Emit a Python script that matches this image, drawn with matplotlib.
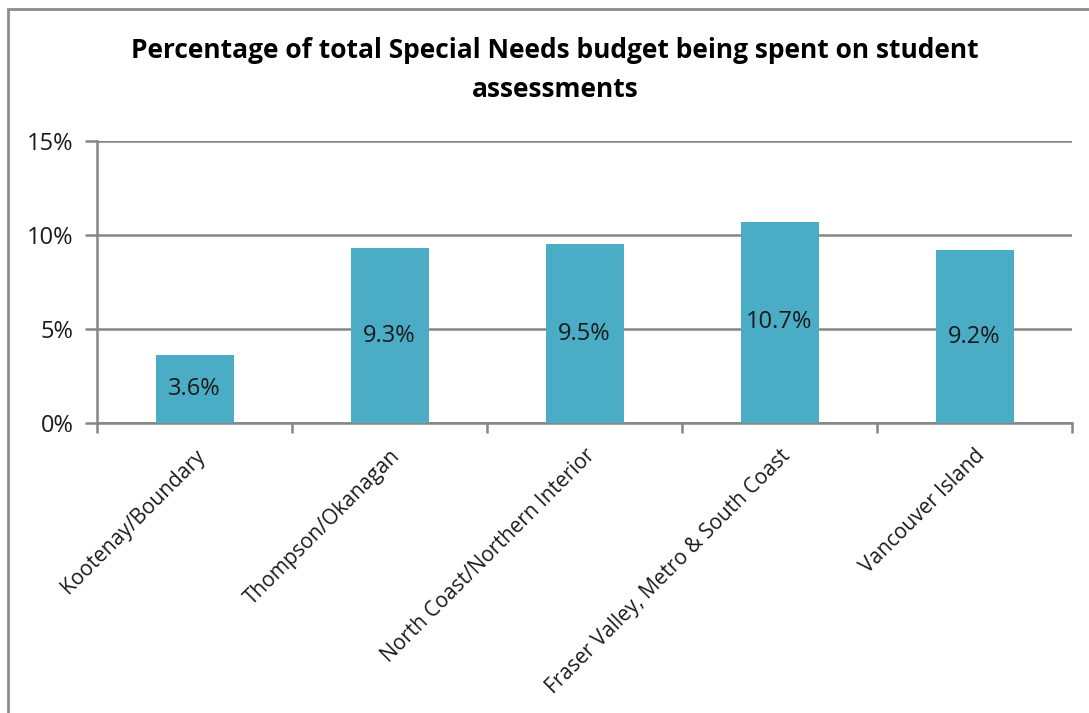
import matplotlib.pyplot as plt
from matplotlib.patches import Rectangle
from matplotlib.ticker import FuncFormatter, MultipleLocator

regions = ["Kootenay/Boundary", "Thompson/Okanagan", "North Coast/Northern Interior",
           "Fraser Valley, Metro & South Coast", "Vancouver Island"]
spent_pct = [3.6, 9.3, 9.5, 10.7, 9.2]

plt.rcParams['font.family'] = ['Open Sans', 'DejaVu Sans']

fig = plt.figure(figsize=(10.89, 7.13), dpi=100)
ax = fig.add_axes([97 / 1089, 1 - 423 / 713, 975 / 1089, 282 / 713])

# outer chart frame (left and top edges visible)
fig.patches.append(Rectangle((8 / 1089, -0.1), 1.2, 0.1 + (713 - 9) / 713,
                             transform=fig.transFigure, fill=False,
                             edgecolor='#8c8c8c', linewidth=2))

x = range(len(regions))
bars = ax.bar(x, spent_pct, width=0.4, color='#4bacc6', zorder=3)
for b, v in zip(bars, spent_pct):
    ax.text(b.get_x() + b.get_width() / 2, v / 2, f"{v:.1f}%", ha='center', va='center',
            fontsize=17, color='#1a1a1a', zorder=4)

ax.set_xlim(-0.5, len(regions) - 0.5)
ax.set_ylim(0, 15)
ax.yaxis.set_major_locator(MultipleLocator(5))
ax.yaxis.set_major_formatter(FuncFormatter(lambda v, p: f"{v:.0f}%"))
ax.grid(axis='y', color='#868686', linewidth=1.8, zorder=0)

ax.set_xticks([i - 0.5 for i in range(len(regions) + 1)], minor=False)
ax.set_xticklabels([])
ax.set_xticks(list(x), minor=True)
ax.set_xticklabels(regions, minor=True, rotation=45, ha='right', va='top',
                   rotation_mode='anchor', fontsize=15, color='#1a1a1a')
ax.tick_params(axis='x', which='minor', length=0, pad=16)
ax.tick_params(axis='x', which='major', length=7, width=1.8, color='#868686', direction='out')
ax.tick_params(axis='y', length=9, width=1.8, color='#868686', labelsize=17, pad=8,
               labelcolor='#1a1a1a')

for side in ['top', 'right']:
    ax.spines[side].set_visible(False)
for side in ['left', 'bottom']:
    ax.spines[side].set_color('#868686')
    ax.spines[side].set_linewidth(1.8)

fig.text(555 / 1089, 1 - 70 / 713,
         "Percentage of total Special Needs budget being spent on student\nassessments",
         ha='center', va='center', fontsize=19, fontweight='bold', linespacing=1.55)

fig.savefig('out.png', dpi=100)
